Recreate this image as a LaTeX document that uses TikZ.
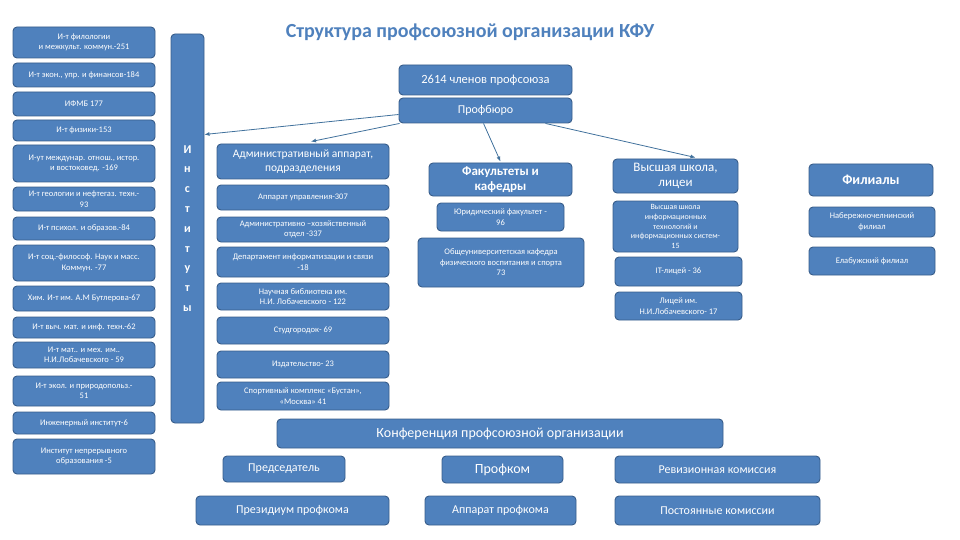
\documentclass[tikz,border=0pt]{standalone}
\usepackage{fontspec}
\setmainfont{Carlito}
\usepackage{tikz}
\usetikzlibrary{arrows.meta}
\definecolor{bleu}{HTML}{4F81BD}
\definecolor{bordure}{HTML}{385D8A}
\definecolor{titre}{HTML}{4F81BD}
\definecolor{trait}{HTML}{41719C}

\tikzset{
  boite/.style={draw=bordure, fill=bleu, line width=0.9pt, rounded corners=4pt,
    text=white, align=center, inner sep=1pt},
  taille/.style 2 args={minimum width=#1pt, minimum height=#2pt},
  petit/.style={font=\fontsize{8.5}{10.5}\selectfont},
  moyen/.style={font=\fontsize{11.5}{13.5}\selectfont},
  grand/.style={font=\fontsize{12}{14}\selectfont},
  fleche/.style={trait, line width=0.8pt, -{Latex[length=5pt,width=4pt]}}
}

\begin{document}
\begin{tikzpicture}[x=1pt, y=-1pt]
    \useasboundingbox (0,0) rectangle (960,540);
    \node[font=\fontsize{20}{23}\selectfont\bfseries, color=titre] (titre) at (470,32)
      {Структура профсоюзной организации КФУ};

    \foreach \y/\h/\t [count=\i] in {
      42.5/31/{И-т филологии\\и межкульт. коммун.-251},
      75/24/{И-т экон., упр. и финансов-184},
      104/24/{ИФМБ 177},
      130.5/21/{И-т физики-153},
      163.5/37/{И-ут междунар. отнош., истор.\\и востоковед. -169},
      199/24/{И-т геологии и нефтегаз. техн.-\\93},
      228.5/23/{И-т психол. и образов.-84},
      263/36/{И-т соц.-философ. Наук и масс.\\Коммун. -77},
      298.5/25/{Хим. И-т им. А.М Бутлерова-67},
      327.5/21/{И-т выч. мат. и инф. техн.-62},
      355/26/{И-т мат.. и мех. им..\\Н.И.Лобачевского - 59},
      391/30/{И-т экол. и природопольз.-\\51},
      423/22/{Инженерный институт-6},
      456.5/35/{Институт непрерывного\\образования -5}} {
      \node[boite, petit, taille={142}{\h}] (inst\i) at (84,\y) {\t};
    }

    \node[boite, font=\fontsize{12}{19.8}\selectfont\bfseries, taille={33}{389}]
      (instituts) at (187.5,228.5) {И\\н\\с\\т\\и\\т\\у\\т\\ы};

    \node[boite, font=\fontsize{12.5}{15}\selectfont, taille={173}{30}] (membres)
      at (485.5,80) {2614 членов профсоюза};
    \node[boite, grand, taille={173}{25}] (bureau) at (485.5,110.5) {Профбюро};

    \node[boite, moyen, taille={172}{35}] (adm1) at (303,161.5)
      {Административный аппарат,\\подразделения};
    \node[boite, petit, taille={172}{25}] (adm2) at (303,197.5) {Аппарат управления-307};
    \node[boite, petit, taille={172}{25}] (adm3) at (303,229.5)
      {Административно –хозяйственный\\отдел -337};
    \node[boite, petit, taille={172}{30}] (adm4) at (303,262)
      {Департамент информатизации и связи\\-18};
    \node[boite, petit, taille={172}{27}] (adm5) at (303,296.5)
      {Научная библиотека им.\\Н.И. Лобачевского - 122};
    \node[boite, petit, taille={172}{27}] (adm6) at (303,330.5) {Студгородок- 69};
    \node[boite, petit, taille={172}{27}] (adm7) at (303,364.5) {Издательство- 23};
    \node[boite, petit, taille={172}{28}] (adm8) at (303,396)
      {Спортивный комплекс «Бустан»,\\«Москва» 41};

    \node[boite, font=\fontsize{13}{15.5}\selectfont\bfseries, taille={143}{33}] (fac1)
      at (500.5,179.5) {Факультеты и\\кафедры};
    \node[boite, petit, taille={127}{28}] (fac2) at (500.5,217) {Юридический факультет -\\96};
    \node[boite, petit, taille={166}{49}] (fac3) at (501,262.5)
      {Общеуниверситетская кафедра\\физического воспитания и спорта\\73};

    \node[boite, font=\fontsize{13}{14.5}\selectfont, taille={125}{34}] (lyc1)
      at (675.5,176) {Высшая школа,\\лицеи};
    \node[boite, font=\fontsize{8}{9.8}\selectfont, taille={125}{51}] (lyc2) at (675.5,226.5)
      {Высшая школа\\информационных\\технологий и\\информационных систем-\\15};
    \node[boite, petit, taille={127}{29}] (lyc3) at (678.5,271.5) {IT-лицей - 36};
    \node[boite, petit, taille={127}{28}] (lyc4) at (678.5,306)
      {Лицей им.\\Н.И.Лобачевского- 17};

    \node[boite, font=\fontsize{14}{16}\selectfont\bfseries, taille={124}{32}] (fil1)
      at (871,180) {Филиалы};
    \node[boite, petit, taille={126}{30}] (fil2) at (872,222) {Набережночелнинский\\филиал};
    \node[boite, petit, taille={126}{28}] (fil3) at (872,261) {Елабужский филиал};

    \node[boite, font=\fontsize{14}{16}\selectfont, taille={446}{29}] (conf) at (500,433.5)
      {Конференция профсоюзной организации};
    \node[boite, grand, taille={122}{26}] (pred) at (284,469) {Председатель};
    \node[boite, font=\fontsize{14}{16}\selectfont, taille={121}{27}] (profkom) at (502.5,469.5)
      {Профком};
    \node[boite, grand, taille={205}{27}] (reviz) at (717.5,469.5) {Ревизионная комиссия};
    \node[boite, grand, taille={193}{29}] (prez) at (292.5,510.5) {Президиум профкома};
    \node[boite, grand, taille={151}{29}] (appar) at (500.5,510.5) {Аппарат профкома};
    \node[boite, grand, taille={205}{29}] (comm) at (717.5,510.5) {Постоянные комиссии};

    \draw[fleche] ([yshift=-4pt]bureau.west) -- ([yshift=94pt]instituts.east);
    \draw[fleche] ([xshift=1pt]bureau.south west) -- ([xshift=8pt, yshift=2pt]adm1.north);
    \draw[fleche] ([xshift=-2pt]bureau.south) -- ([yshift=1pt]fac1.north);
    \draw[fleche] ([xshift=60pt]bureau.south) -- ([xshift=20pt, yshift=1pt]lyc1.north);
\end{tikzpicture}
\end{document}
